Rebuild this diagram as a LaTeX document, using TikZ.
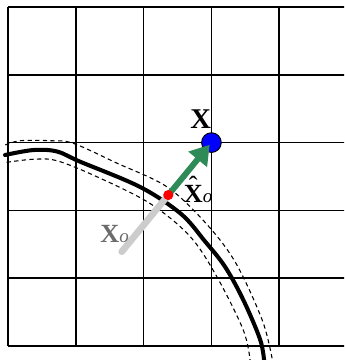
\documentclass[tikz,border=0pt]{standalone}
\usepackage{fontspec}
\setmainfont{Liberation Serif}
\usetikzlibrary{arrows.meta}
\definecolor{movegreen}{RGB}{46,139,87}

\begin{document}
\begin{tikzpicture}[every node/.style={inner sep=0pt}, >={Triangle[length=2.8mm,width=3.4mm]},
	band/.style={line width=0.45pt, dash pattern=on 1.8pt off 1.4pt},
	boundary/.style={line width=1.7pt, line cap=round},
	dot/.style={circle, inner sep=0pt},
	lab/.style={anchor=base west, font=\fontsize{11}{12}\selectfont}]
	\newcommand{\subo}{{\fontsize{8}{8}\selectfont\mdseries\itshape o}}
	\newcommand{\hatX}{\ooalign{\textbf{X}\cr\hidewidth\raisebox{0.3em}{\char"02C6}\hidewidth\cr}}
	\clip (-0.118,-0.206) rectangle (4.956,5.103);
	\draw[line width=0.65pt] (0,0) grid (5,5);
	\draw[band] plot[smooth, tension=0.55] coordinates {(-0.04,2.965) (0.18,3.028) (0.62,3.028) (0.96,2.99) (1.6,2.7) (2.34,2.35) (2.9,1.83) (3.35,1.24) (3.75,0.38) (3.9,-0.21)};
	\draw[band] plot[smooth, tension=0.55] coordinates {(-0.02,2.709) (0.37,2.754) (0.72,2.733) (1.31,2.497) (2.09,2.105) (2.68,1.622) (3.08,1.022) (3.47,0.236) (3.57,-0.21)};
	\draw[boundary] plot[smooth, tension=0.55] coordinates {(-0.044,2.817) (0.37,2.89) (0.72,2.87) (1.06,2.72) (1.95,2.345) (2.55,1.95) (2.9,1.55) (3.2,1.17) (3.47,0.68) (3.72,0.09) (3.78,-0.25)};
	\coordinate (xo) at (1.677,1.391);
	\coordinate (xh) at (2.364,2.227);
	\coordinate (x) at (3,3);
	\node[dot, draw, fill=blue, minimum size=2.9mm] (xdot) at (x) {};
	\draw[gray!40, line width=2.8pt, line cap=round] (xo) -- (xh);
	\draw[->, movegreen, line width=2.5pt, shorten >=0.4mm] (xh) -- (x);
	\node[dot, fill=red, minimum size=1.5mm] (xhdot) at (xh) {};
	\node[lab, font=\bfseries\fontsize{12}{14}\selectfont] (xlab) at (2.684,3.215) {X};
	\node[lab] (xhlab) at (2.586,2.119) {\hatX\subo};
	\node[lab, text=black!58] (xolab) at (1.357,1.534) {\textbf{X}\subo};
\end{tikzpicture}
\end{document}
